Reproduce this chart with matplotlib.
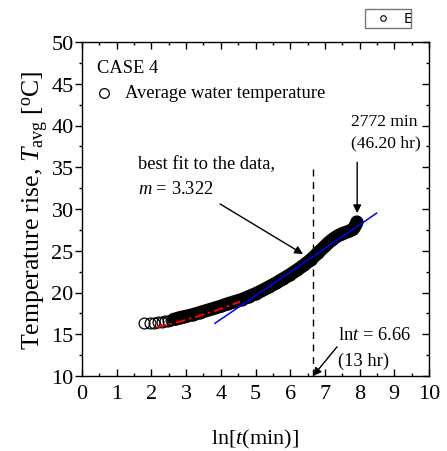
import matplotlib
matplotlib.use("Agg")
import matplotlib.pyplot as plt
import numpy as np
from matplotlib.patches import Rectangle
from matplotlib.ticker import MultipleLocator

# ---- data ----
ln_t = [1.79, 1.95, 2.08, 2.20, 2.30, 2.40, 2.48, 2.56, 2.64, 2.71, 2.77, 2.83,
        2.89, 2.94, 3.00, 3.20, 3.40, 3.60, 3.80, 4.00, 4.20, 4.40, 4.60, 4.80,
        5.00, 5.20, 5.40, 5.60, 5.80, 6.00, 6.20, 6.40, 6.60, 6.80, 7.00, 7.10,
        7.20, 7.30, 7.40, 7.50, 7.60, 7.70, 7.80, 7.85, 7.90, 7.92]
T_avg = [16.30, 16.35, 16.40, 16.45, 16.50, 16.55, 16.62, 16.70, 16.78, 16.85, 16.92, 17.00,
         17.05, 17.10, 17.15, 17.35, 17.60, 17.85, 18.10, 18.35, 18.65, 18.90, 19.15, 19.50,
         19.85, 20.25, 20.70, 21.15, 21.65, 22.15, 22.70, 23.30, 23.95, 24.75, 25.55, 25.95,
         26.30, 26.60, 26.85, 27.05, 27.20, 27.35, 27.55, 27.80, 28.20, 28.45]

red_x = [2.15, 2.50, 2.80, 3.30, 3.90, 4.55]
red_y = [15.85, 16.20, 16.50, 17.10, 17.90, 18.90]

fit_range = [3.83, 8.49]
fit_slope = 2.83
fit_intercept = 5.47

ln_t_13hr = 6.66
x_ticks = [0, 1, 2, 3, 4, 5, 6, 7, 8, 9, 10]
y_ticks = [10, 15, 20, 25, 30, 35, 40, 45, 50]

plt.rcParams['font.family'] = ['Liberation Serif', 'DejaVu Serif']
plt.rcParams['mathtext.fontset'] = 'custom'
plt.rcParams['mathtext.rm'] = 'Liberation Serif'
plt.rcParams['mathtext.it'] = 'Liberation Serif:italic'

fig = plt.figure(figsize=(4.47, 4.52), dpi=100)
ax = fig.add_axes([82/447, 1-377/452, (429-82)/447, (377-43)/452])

x = np.array(ln_t)
y = np.array(T_avg)
dense = x >= 2.6
ax.plot(x[dense], y[dense], color='black', lw=9.5, solid_capstyle='round', zorder=2)
ax.plot(x, y, linestyle='none', marker='o', markersize=7.8, markerfacecolor='none',
        markeredgecolor='black', markeredgewidth=0.9, zorder=3)

ax.plot(red_x, red_y, color='#ff0000', lw=1.4, linestyle=(0, (5, 2, 1.2, 2)), zorder=4)
fx = np.array(fit_range)
ax.plot(fx, fit_intercept + fit_slope * fx, color='#0000ff', lw=1.1, zorder=5)

ax.plot([ln_t_13hr, ln_t_13hr], [10, 34.8], color='black', lw=1.0, linestyle=(0, (5, 4)), zorder=1)

ax.set_xlim(0, 10)
ax.set_ylim(10, 50)
ax.set_xticks(x_ticks)
ax.set_yticks(y_ticks)
ax.xaxis.set_minor_locator(MultipleLocator(0.5))
ax.yaxis.set_minor_locator(MultipleLocator(2.5))
for s in ax.spines.values():
    s.set_linewidth(1.0)

ax.tick_params(axis='x', which='major', direction='in', length=5, width=1, labelsize=16,
               pad=6, top=True)
ax.tick_params(axis='x', which='minor', direction='in', length=2.5, width=1, top=True)
ax.tick_params(axis='y', which='major', direction='out', length=5, width=1, labelsize=16, pad=1)
ax.tick_params(axis='y', which='minor', direction='out', length=2.5, width=1)
ax2 = ax.twinx()
ax2.set_ylim(10, 50)
ax2.set_yticks(y_ticks)
ax2.yaxis.set_minor_locator(MultipleLocator(2.5))
ax2.tick_params(axis='y', which='major', direction='in', length=5, width=1, labelright=False)
ax2.tick_params(axis='y', which='minor', direction='in', length=2.5, width=1)
for s in ax2.spines.values():
    s.set_visible(False)

ax.set_xlabel(r'ln[$t$(min)]', fontsize=16, labelpad=17)
ax.set_ylabel(r'Temperature rise, $T_{\rm avg}$ [$^{\rm o}$C]', fontsize=18.5, labelpad=1)

fs = 13.3
ax.text(0.43, 47.0, 'CASE 4', fontsize=fs, ha='left', va='center')
ax.plot([0.63], [43.9], marker='o', markersize=7, markerfacecolor='none',
        markeredgecolor='black', markeredgewidth=0.9, linestyle='none')
ax.text(1.24, 43.9, 'Average water temperature', fontsize=fs, ha='left', va='center')

ax.text(7.76, 40.5, '2772 min', fontsize=12.6, ha='left', va='center')
ax.text(7.76, 38.0, '(46.20 hr)', fontsize=12.6, ha='left', va='center')
ax.annotate('', xy=(7.93, 29.5), xytext=(7.93, 35.6),
            arrowprops=dict(arrowstyle='-|>', lw=1.0, color='black', mutation_scale=12,
                            shrinkA=0, shrinkB=0))

ax.text(1.61, 35.4, 'best fit to the data,', fontsize=fs, ha='left', va='center')
ax.text(1.61, 32.4, r'$m$ = 3.322', fontsize=fs, ha='left', va='center')
ax.annotate('', xy=(6.37, 24.6), xytext=(3.98, 30.6),
            arrowprops=dict(arrowstyle='-|>', lw=1.0, color='black', mutation_scale=12,
                            shrinkA=0, shrinkB=0))

ax.text(7.38, 15.0, r'ln$t$ = 6.66', fontsize=fs, ha='left', va='center')
ax.text(7.38, 11.9, '(13 hr)', fontsize=fs, ha='left', va='center')
ax.annotate('', xy=(6.66, 10.0), xytext=(7.35, 13.5),
            arrowprops=dict(arrowstyle='-|>', lw=1.0, color='black', mutation_scale=12,
                            shrinkA=0, shrinkB=0))

# small stray legend box at the top right
box = Rectangle((365/447, 1-29/452), 46/447, 19/452, transform=fig.transFigure,
                facecolor='white', edgecolor='#777777', lw=1.0)
fig.patches.append(box)
fig.lines.append(plt.Line2D([383/447], [1-19/452], transform=fig.transFigure, marker='o',
                            markersize=4, markerfacecolor='none', markeredgecolor='black',
                            markeredgewidth=0.8))
et = fig.text(403.5/447, 1-19/452, 'E', fontsize=10, family='DejaVu Sans', ha='left', va='center')
et.set_clip_path(box)

fig.savefig('out.png', dpi=100)
